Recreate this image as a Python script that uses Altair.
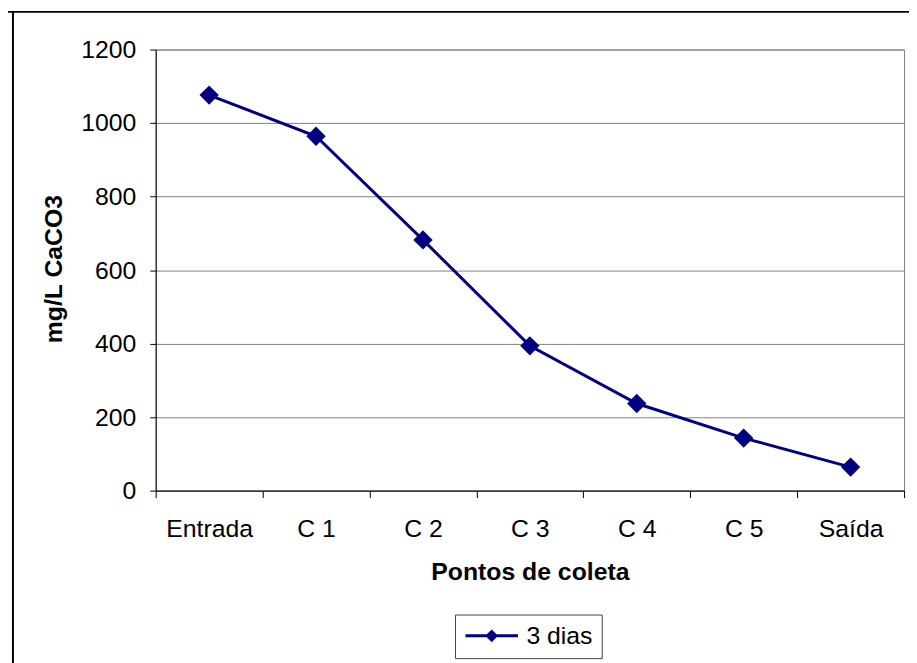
import altair as alt
import pandas as pd

categories = ["Entrada", "C 1", "C 2", "C 3", "C 4", "C 5", "Saída"]
values = [1076, 964, 682, 394, 237, 143, 64]
series = ["3 dias"] * len(categories)
y_ticks = [0, 200, 400, 600, 800, 1000, 1200]

df = pd.DataFrame({"ponto": categories, "valor": values, "serie": series})

NAVY = "#000080"
FONT = "Liberation Sans"
W, H = 755, 445
FS = 25

x_enc = alt.X(
    "ponto:N",
    sort=categories,
    scale=alt.Scale(type="band", paddingInner=0, paddingOuter=0),
    axis=alt.Axis(
        title="Pontos de coleta",
        tickBand="extent",
        grid=False,
        labelAngle=0,
        labelOverlap=False,
        labelFont=FONT,
        labelFontSize=FS,
        labelColor="black",
        labelPadding=19,
        tickSize=7,
        tickColor="black",
        domainColor="black",
        titleFont=FONT,
        titleFontSize=FS,
        titleFontWeight="bold",
        titleColor="black",
        titleX=W / 2,
        titleY=90,
        titleBaseline="alphabetic",
    ),
)

y_enc = alt.Y(
    "valor:Q",
    scale=alt.Scale(domain=[0, 1200], nice=False),
    axis=alt.Axis(
        values=y_ticks,
        format="d",
        title="mg/L CaCO3",
        grid=True,
        gridColor="#808080",
        gridWidth=1,
        labelFont=FONT,
        labelFontSize=FS,
        labelColor="black",
        labelPadding=14,
        labelFlush=False,
        tickSize=6,
        tickColor="black",
        domainColor="black",
        titleFont=FONT,
        titleFontSize=FS,
        titleFontWeight="bold",
        titleColor="black",
        titleAngle=-90,
        titleX=-103,
        titleY=221,
        titleAlign="center",
        titleBaseline="middle",
    ),
)

# legend glyph: a short line with a diamond in its middle
legend_symbol = (
    "M-0.917,-0.125H3.5V0.125H-0.917Z "
    "M1.292,-0.54L1.832,0L1.292,0.54L0.752,0Z"
)

line = alt.Chart(df).mark_line(color=NAVY, strokeWidth=3).encode(x=x_enc, y=y_enc)

points = alt.Chart(df).mark_point(shape="diamond", filled=True, size=380, opacity=1).encode(
    x=x_enc,
    y=y_enc,
    color=alt.Color(
        "serie:N",
        scale=alt.Scale(range=[NAVY]),
        legend=alt.Legend(
            title=None,
            orient="none",
            legendX=302,
            legendY=570,
            direction="vertical",
            padding=9,
            strokeColor="#404040",
            fillColor="white",
            labelFont=FONT,
            labelFontSize=FS,
            labelColor="black",
            labelOffset=38,
            symbolType=legend_symbol,
            symbolSize=576,
            symbolFillColor=NAVY,
            symbolStrokeWidth=0,
            symbolOpacity=1,
        ),
    ),
)

frame_data = alt.Data(values=[{"k": 1}])
frame_left = alt.Chart(frame_data).mark_rule(color="black", strokeWidth=2).encode(
    x=alt.value(-144), y=alt.value(-39), y2=alt.value(620)
)
frame_top = alt.Chart(frame_data).mark_rule(color="black", strokeWidth=2).encode(
    x=alt.value(-149), x2=alt.value(760), y=alt.value(-38)
)

chart = (
    alt.layer(frame_left, frame_top, line, points)
    .properties(
        width=W,
        height=H,
        autosize=alt.AutoSizeParams(type="none"),
        padding={"left": 149, "top": 39, "right": 5, "bottom": 171},
        background="white",
    )
    .configure_view(stroke="#808080", strokeWidth=1)
)

chart.save("out.html", embed_options={"renderer": "svg", "actions": False})
